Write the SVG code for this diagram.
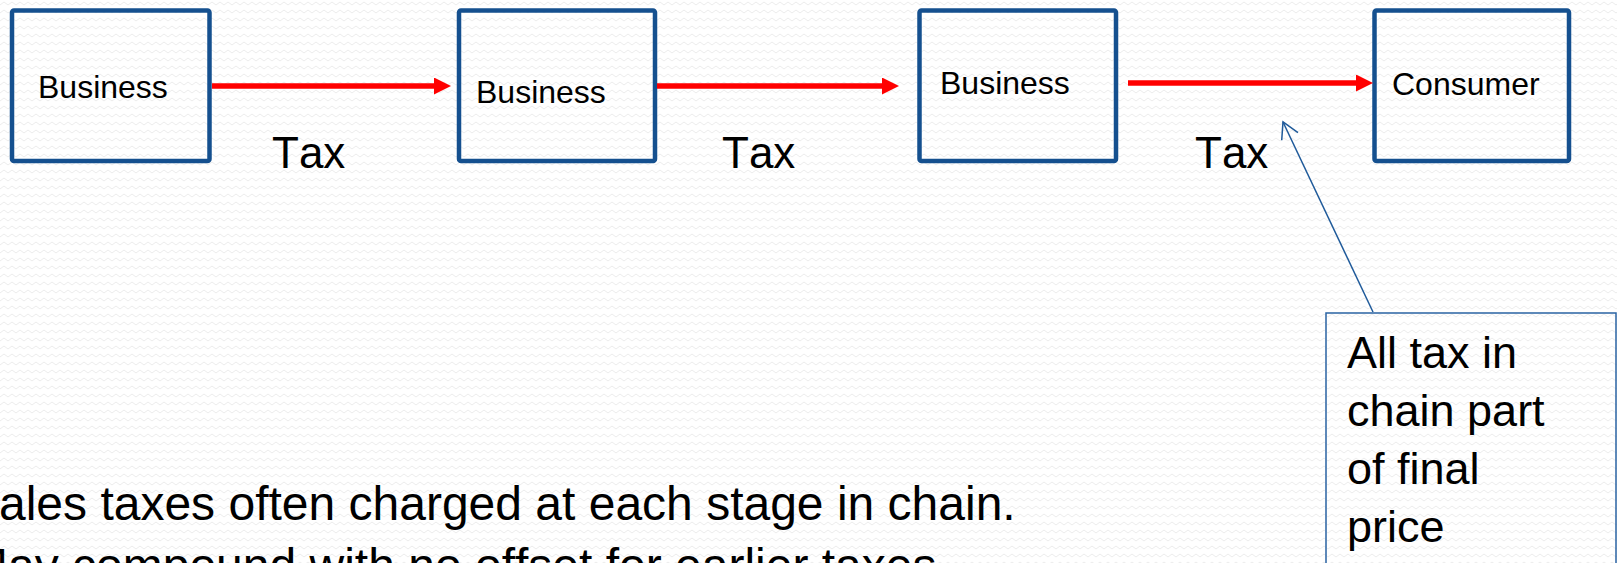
<svg xmlns="http://www.w3.org/2000/svg" width="1617" height="563" viewBox="0 0 1617 563">
  <style>
    .box { fill: none; stroke: #15508f; stroke-width: 4.5; }
    .lbl { font-family: "Liberation Sans", Arial, sans-serif; fill: #000; font-kerning: none; }
    .node-lbl { font-size: 32px; }
    .tax { font-size: 44px; }
    .call { font-size: 45px; }
    .body { font-size: 48px; }
    .flow { stroke: #ff0000; stroke-width: 5.5; fill: none; }
    .pointer { stroke: #1f5a9a; stroke-width: 1.5; fill: none; }
  </style>
  <defs>
    <pattern id="bg" width="8" height="8" patternUnits="userSpaceOnUse">
      <path d="M0,5 L4,2 L8,5" fill="none" stroke="#ececec" stroke-width="1"/>
    </pattern>
    <marker id="redHead" viewBox="0 0 17 17" refX="5" refY="8.5" markerWidth="17" markerHeight="17" markerUnits="userSpaceOnUse" orient="auto">
      <path d="M0,0 L17,8.5 L0,17 z" fill="#ff0000"/>
    </marker>
    <marker id="openHead" viewBox="-20 -12 24 24" refX="0" refY="0" markerWidth="24" markerHeight="24" markerUnits="userSpaceOnUse" orient="auto">
      <path d="M-16,-9 L0,0 L-16,9" fill="none" stroke="#1f5a9a" stroke-width="1.5"/>
    </marker>
  </defs>
  <rect width="1617" height="563" fill="#ffffff"/>
  <rect width="1617" height="563" fill="url(#bg)"/>

  <g id="node-business-1">
    <rect class="box" x="12" y="10.5" width="197.5" height="150.5" rx="2"/>
    <text class="lbl node-lbl" x="38" y="98">Business</text>
  </g>
  <g id="node-business-2">
    <rect class="box" x="459" y="10.5" width="196" height="150.5" rx="2"/>
    <text class="lbl node-lbl" x="476" y="102.5">Business</text>
  </g>
  <g id="node-business-3">
    <rect class="box" x="919.5" y="10.5" width="196.5" height="150.5" rx="2"/>
    <text class="lbl node-lbl" x="940" y="93.5">Business</text>
  </g>
  <g id="node-consumer">
    <rect class="box" x="1374.5" y="10.5" width="194.5" height="150.5" rx="2"/>
    <text class="lbl node-lbl" x="1392" y="94.5">Consumer</text>
  </g>

  <g id="connectors">
    <line class="flow" x1="212" y1="86" x2="439" y2="86" marker-end="url(#redHead)"/>
    <line class="flow" x1="657" y1="86" x2="887" y2="86" marker-end="url(#redHead)"/>
    <line class="flow" x1="1128" y1="83" x2="1361" y2="83" marker-end="url(#redHead)"/>
    <line class="pointer" x1="1373" y1="312" x2="1283" y2="122" marker-end="url(#openHead)"/>
  </g>

  <g id="tax-labels">
    <text class="lbl tax" x="272" y="167.5">Tax</text>
    <text class="lbl tax" x="722" y="167.5">Tax</text>
    <text class="lbl tax" x="1195" y="167.5">Tax</text>
  </g>

  <g id="node-callout">
    <rect x="1326" y="313" width="290" height="300" fill="none" stroke="#2a63a3" stroke-width="1.5"/>
    <text class="lbl call" x="1347" y="368">All tax in</text>
    <text class="lbl call" x="1347" y="426">chain part</text>
    <text class="lbl call" x="1347" y="484">of final</text>
    <text class="lbl call" x="1347" y="542">price</text>
  </g>

  <g id="body-text">
    <text class="lbl body" x="-1" y="520">ales taxes often charged at each stage in chain.</text>
    <text class="lbl body" x="-32" y="582">May compound with no offset for earlier taxes.</text>
  </g>
</svg>
